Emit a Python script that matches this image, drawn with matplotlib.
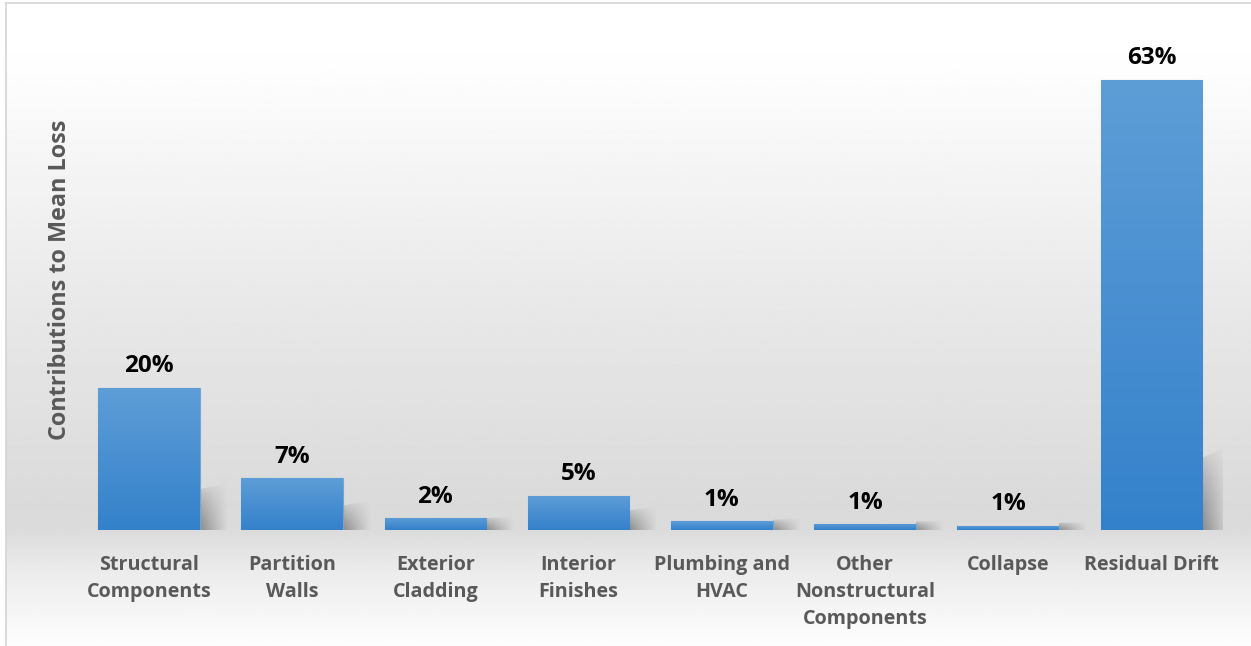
import numpy as np
import matplotlib.pyplot as plt
from matplotlib.patches import Rectangle, Polygon
from matplotlib.colors import to_rgb

categories = ["Structural\nComponents", "Partition\nWalls", "Exterior\nCladding",
              "Interior\nFinishes", "Plumbing and\nHVAC", "Other\nNonstructural\nComponents",
              "Collapse", "Residual Drift"]
values = [19.9, 7.3, 1.7, 4.8, 1.25, 0.85, 0.6, 63.0]
value_labels = ["20%", "7%", "2%", "5%", "1%", "1%", "1%", "63%"]

plt.rcParams['font.family'] = ['Open Sans', 'DejaVu Sans']

fig = plt.figure(figsize=(12.51, 6.46), dpi=100)

# background gradient (white top, grey near the baseline, white again at the bottom)
bg = fig.add_axes([6 / 1251, 0, 1 - 6 / 1251, 643 / 646], zorder=-10)
stops_y = [0.0, 0.1, 0.45, 0.78, 0.82, 0.88, 1.0]
stops_v = [1.0, 0.995, 0.915, 0.855, 0.86, 0.92, 0.995]
yy = np.linspace(0, 1, 400)
prof = np.interp(yy, stops_y, stops_v)
img = np.repeat(prof[:, None], 2, axis=1)
bg.imshow(img, cmap="gray", vmin=0, vmax=1, aspect="auto", extent=(0, 1, 1, 0))
bg.set_axis_off()

# thin frame lines at top and left
fig.add_artist(plt.Line2D([5.5 / 1251, 1], [1 - 2.5 / 646] * 2, color="#d4d4d4", lw=1.2))
fig.add_artist(plt.Line2D([5.5 / 1251] * 2, [0, 1 - 2.5 / 646], color="#d4d4d4", lw=1.2))

ax = fig.add_axes([0.0619, 0.1796, 0.9157, 0.7744])
ax.patch.set_alpha(0)
ax.set_xlim(-0.5, 7.5)
ax.set_ylim(0, 70)

x = np.arange(len(values))
w = 0.71
top_c = np.array(to_rgb("#5e9ed7"))
bot_c = np.array(to_rgb("#3481cb"))
grad = np.linspace(0, 1, 256)[:, None]
bar_img = (top_c * (1 - grad) + bot_c * grad)[:, None, :].repeat(2, axis=1)

bars = ax.bar(x, values, width=w, color="#4a90d2", edgecolor="#6aa9e0", linewidth=0.8, zorder=3)
for b in bars:
    x0, y0 = b.get_x(), b.get_y()
    bw, bh = b.get_width(), b.get_height()
    im = ax.imshow(bar_img, aspect="auto", extent=(x0, x0 + bw, y0, y0 + bh),
                   origin="upper", zorder=3.5)
    clip = Rectangle((x0, y0), bw, bh, transform=ax.transData, fill=False, lw=0)
    ax.add_patch(clip)
    im.set_clip_path(clip)

    # soft perspective shadow on the right of the bar
    sh = 1.5 * np.sqrt(bh)
    sw = 0.2
    sx = x0 + bw
    ny, nx = 60, 30
    fy = np.linspace(1, 0, ny)[:, None]
    fx = np.linspace(0, 1, nx)[None, :]
    alpha = 0.65 * (1 - fx) ** 1.1 * (1 - fy) ** 0.7
    sarr = np.zeros((ny, nx, 4))
    sarr[..., :3] = 0.38
    sarr[..., 3] = alpha
    sim = ax.imshow(sarr, aspect="auto", extent=(sx, sx + sw, 0, sh), origin="upper", zorder=2)
    poly = Polygon([(sx, 0), (sx, sh * 0.85), (sx + sw, sh), (sx + sw, 0)],
                   transform=ax.transData, fill=False, lw=0)
    ax.add_patch(poly)
    sim.set_clip_path(poly)

for xi, v, lab in zip(x, values, value_labels):
    ax.text(xi, v + 1.3, lab, ha="center", va="bottom", fontsize=17.5,
            fontweight="bold", color="black")

ax.set_xticks(x)
ax.set_xticklabels(categories, fontsize=14.2, fontweight="bold", color="#595959",
                   linespacing=1.48, va="top")
ax.tick_params(axis="x", length=0, pad=18)
ax.set_yticks([])
for s in ax.spines.values():
    s.set_visible(False)

fig.text(60 / 1251, 1 - 280 / 646, "Contributions to Mean Loss", rotation=90,
         ha="center", va="center", fontsize=16.8, fontweight="bold", color="#595959")

fig.savefig("out.png", dpi=100)
plt.close(fig)
